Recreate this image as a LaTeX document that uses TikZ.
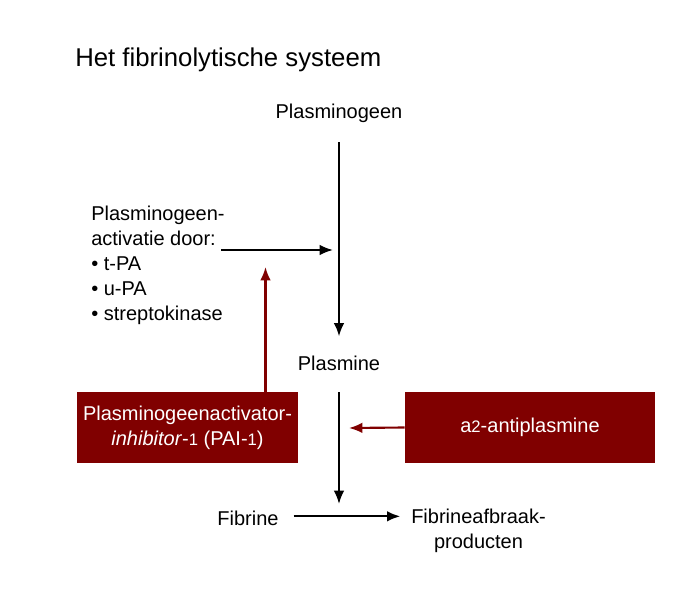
\documentclass[tikz,border=0pt]{standalone}
\usepackage{fontspec}
\setmainfont{Liberation Sans}
\usetikzlibrary{arrows.meta}
\definecolor{dred}{RGB}{128,0,0}
\newcommand{\smd}[1]{{\fontsize{12.5}{12.5}\selectfont #1}}
\begin{document}
\begin{tikzpicture}[x=0.75pt,y=-0.75pt,
  lbl/.style={inner sep=0pt, font=\fontsize{15}{18.75}\selectfont, text height=11pt, text depth=3pt},
  multi/.style={inner sep=0pt, font=\fontsize{15}{18.75}\selectfont},
  box/.style={fill=dred, draw=none, text=white, inner sep=0pt, align=center, minimum height=53.25pt, font=\fontsize{15}{18.75}\selectfont},
  arr/.style={line width=1.6pt, -{Latex[length=10pt,width=8pt]}},
  redarr/.style={arr, draw=dred},
]
\useasboundingbox (0,0) rectangle (697,600);
\node[anchor=base west, inner sep=0pt, font=\fontsize{19.3}{24}\selectfont] (title) at (75,66) {Het fibrinolytische systeem};
\node[lbl, anchor=base] (pg) at (339,118) {Plasminogeen};
\node[lbl, anchor=base] (pm) at (339,370) {Plasmine};
\node[multi, anchor=base west, align=left] (act) at (91,320) {Plasminogeen-\\activatie door:\\• t-PA\\• u-PA\\• streptokinase};
\node[box, minimum width=165.75pt] (pai) at (187.5,427.5) {\raisebox{-1.5pt}{\parbox{165pt}{\centering Plasminogeenactivator-\\\textit{inhibitor}-\smd{1} (PAI-\smd{1})}}};
\node[box, minimum width=187.5pt] (ap) at (530,427.5) {a\smd{2}-antiplasmine};
\node[lbl, anchor=base] (fib) at (248,525) {Fibrine};
\node[multi, anchor=west, align=center] (fap) at (411,531) {Fibrineafbraak-\\producten};
\coordinate (actout) at (221,250);
\coordinate (join) at (333,250);
\coordinate (inh1) at (265.5,267);
\coordinate (inh2) at (349,428);
\coordinate (fibjoin) at (339,504);
\draw[arr, shorten <=15pt, shorten >=14pt] (pg.south) -- (pm.north);
\draw[arr] (actout) -- (join);
\draw[redarr] (pai.north -| inh1) -- (inh1);
\draw[redarr] (ap.west) -- (inh2);
\draw[arr, shorten <=13.5pt] (pm.south) -- (fibjoin);
\draw[arr, shorten <=11pt, shorten >=8pt] ([yshift=2.5pt]fib.east) -- ([yshift=2.5pt]fib.east -| fap.west);
\end{tikzpicture}
\end{document}
